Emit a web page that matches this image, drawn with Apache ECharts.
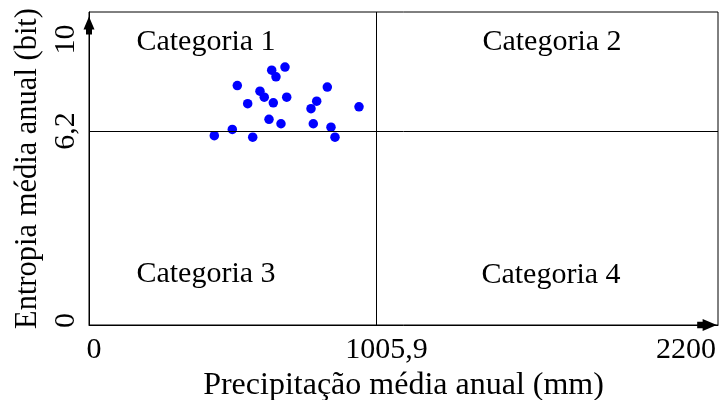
<!DOCTYPE html>
<html>
<head>
<meta charset="utf-8">
<style>
  html, body { margin: 0; padding: 0; background: #fff; }
  #chart { width: 721px; height: 400px; }
</style>
<script src="https://cdn.jsdelivr.net/npm/echarts@6/dist/echarts.min.js"></script>
</head>
<body>
<div id="chart"></div>
<script>
// Annual mean precipitation (mm) and annual mean entropy (bit) per station
const precipitation = [518.7, 639, 654, 685.5, 598, 613, 644.6, 691.5, 555, 629.6, 671.5,
                       501.2, 438.3, 572.6, 833.5, 796.4, 776.5, 944.4, 784.5, 846.4, 860.4];
const entropy = [7.65, 8.14, 7.93, 8.24, 7.47, 7.28, 7.10, 7.28, 7.07, 6.57, 6.43,
                 6.25, 6.05, 6.00, 7.60, 7.15, 6.91, 6.97, 6.43, 6.32, 6.00];

// Quadrant thresholds
const precipThreshold = 1005.9;
const entropyThreshold = 6.2;

// Axis ticks
const xTicks = [0, 1005.9, 2200];
const yTicks = [0, 6.2, 10];

// Quadrant names
const categories = ['Categoria 1', 'Categoria 2', 'Categoria 3', 'Categoria 4'];

const FONT = "'Liberation Serif', 'Times New Roman', serif";
const FS = 30;

const points = precipitation.map((p, i) => [p, entropy[i]]);
const fmt = v => String(v).replace('.', ',');

// Arrow head with a short stem, pointing up in its own frame
const arrowPath = 'path://M5.5,0 L11,13 L8.5,13 L8.5,18 L2.5,18 L2.5,13 L0,13 Z';

const richBase = { fontFamily: FONT, fontSize: FS, color: '#000' };

const chart = echarts.init(document.getElementById('chart'), null, { renderer: 'canvas' });

const quadLabelPos = [
  [206, 42], [552, 42], [206, 274], [551, 275]
];

chart.setOption({
  animation: false,
  backgroundColor: '#fff',
  grid: {
    left: 89, right: 3, top: 12, bottom: 75,
    outerBoundsMode: 'none',
    containLabel: false,
    show: true, borderColor: '#000', borderWidth: 1
  },
  xAxis: {
    type: 'value',
    min: 0, max: 2200,
    name: 'Precipitação média anual (mm)',
    nameLocation: 'middle',
    nameGap: 40,
    nameTextStyle: { fontFamily: FONT, fontSize: 32, color: '#000' },
    splitLine: { show: false },
    axisTick: { show: false },
    axisLine: {
      lineStyle: { color: '#000', width: 1 },
      symbol: ['none', arrowPath],
      symbolSize: [12, 20],
      symbolOffset: [0, -11]
    },
    axisLabel: {
      customValues: xTicks,
      margin: 10,
      color: '#000',
      fontFamily: FONT,
      fontSize: FS,
      formatter: v => {
        if (v === 0) return '{l|' + fmt(v) + '}';
        if (v === 2200) return '{r|' + fmt(v) + '}';
        return '{m|' + fmt(v) + '}';
      },
      rich: {
        l: Object.assign({ padding: [0, 0, 0, 10] }, richBase),
        m: Object.assign({ padding: [0, 0, 0, 20] }, richBase),
        r: Object.assign({ padding: [0, 64, 0, 0] }, richBase)
      }
    }
  },
  yAxis: {
    type: 'value',
    min: 0, max: 10,
    name: 'Entropia média anual (bit)',
    nameLocation: 'middle',
    nameGap: 44,
    nameTextStyle: { fontFamily: FONT, fontSize: 30.5, color: '#000' },
    splitLine: { show: false },
    axisTick: { show: false },
    axisLine: {
      lineStyle: { color: '#000', width: 1 },
      symbol: ['none', arrowPath],
      symbolSize: [11, 18],
      symbolOffset: [0, -13.5]
    },
    axisLabel: {
      customValues: yTicks,
      rotate: 90,
      margin: 8,
      color: '#000',
      fontFamily: FONT,
      fontSize: FS,
      formatter: v => {
        if (v === 10) return '{t|' + fmt(v) + '}';
        if (v === 0) return '{b|' + fmt(v) + '}';
        return '{m|' + fmt(v) + '}';
      },
      rich: {
        t: Object.assign({ padding: [0, 55, 0, 0] }, richBase),
        b: Object.assign({ padding: [0, 0, 0, 9] }, richBase),
        m: Object.assign({}, richBase)
      }
    }
  },
  graphic: categories.map((name, i) => ({
    type: 'text',
    x: quadLabelPos[i][0],
    y: quadLabelPos[i][1],
    silent: true,
    z: 10,
    style: {
      text: name,
      fontFamily: FONT,
      fontSize: FS,
      fill: '#000',
      align: 'center',
      verticalAlign: 'middle'
    }
  })),
  series: [{
    type: 'scatter',
    data: points,
    symbol: 'circle',
    symbolSize: 9.5,
    itemStyle: { color: '#0000ff', opacity: 1 },
    z: 3,
    markLine: {
      silent: true,
      symbol: ['none', 'none'],
      label: { show: false },
      lineStyle: { color: '#000', width: 1, type: 'solid' },
      emphasis: { disabled: true },
      data: [
        { xAxis: precipThreshold },
        { yAxis: entropyThreshold }
      ]
    }
  }]
});
</script>
</body>
</html>
